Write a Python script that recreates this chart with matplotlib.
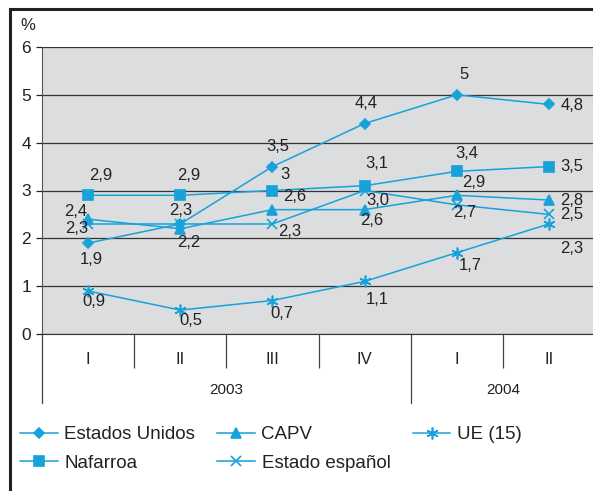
import matplotlib
matplotlib.use('Agg')
import matplotlib.pyplot as plt
from matplotlib.patches import Rectangle

plt.rcParams['font.family'] = ['Liberation Sans', 'DejaVu Sans']

quarters = ['I', 'II', 'III', 'IV', 'I', 'II']
years = ['2003', '2004']

estados_unidos = [1.9, 2.3, 3.5, 4.4, 5.0, 4.8]
nafarroa = [2.9, 2.9, 3.0, 3.1, 3.4, 3.5]
capv = [2.4, 2.2, 2.6, 2.6, 2.9, 2.8]
estado_espanol = [2.3, 2.3, 2.3, 3.0, 2.7, 2.5]
ue15 = [0.9, 0.5, 0.7, 1.1, 1.7, 2.3]

# printed labels (None = not shown)
lab_eu = ['1,9', '2,3', '3,5', '4,4', '5', '4,8']
lab_naf = ['2,9', '2,9', '3', '3,1', '3,4', '3,5']
lab_capv = ['2,4', '2,2', '2,6', '2,6', '2,9', '2,8']
lab_esp = ['2,3', None, '2,3', '3,0', '2,7', '2,5']
lab_ue = ['0,9', '0,5', '0,7', '1,1', '1,7', '2,3']

color = '#17a2da'
dark = '#222222'

W, H = 593, 491
fig = plt.figure(figsize=(W / 100, H / 100), dpi=100)
x0, x1, y0, y1 = 42, 595, 334, 47
ax = fig.add_axes([x0 / W, 1 - y0 / H, (x1 - x0) / W, (y0 - y1) / H])
ax.set_facecolor('#dcdddf')

x = list(range(len(quarters)))
series = [
    ('Estados Unidos', estados_unidos, 'D', 5.5, lab_eu,
     [(3, -16), (0, 13), (5, 20), (2, 20), (7, 20), (23, -1)]),
    ('Nafarroa', nafarroa, 's', 7, lab_naf,
     [(13, 20), (8, 20), (13, 16), (12, 22), (10, 18), (23, 0)]),
    ('CAPV', capv, '^', 7.5, lab_capv,
     [(-12, 8), (8, -14), (22, 13), (7, -11), (17, 13), (23, 0)]),
    ('Estado español', estado_espanol, 'x', 7.5, lab_esp,
     [(-11, -5), (0, 0), (17, -8), (13, -10), (8, -8), (23, 0)]),
    ('UE (15)', ue15, (6, 2, 0), 8.5, lab_ue,
     [(6, -11), (11, -10), (9, -13), (13, -18), (13, -13), (23, -25)]),
]

handles = {}
for name, vals, mk, ms, labs, offs in series:
    h, = ax.plot(x, vals, color=color, lw=1.1, marker=mk, markersize=ms,
                 markeredgewidth=1.2, label=name, clip_on=False, zorder=3)
    handles[name] = h
    for xi, v, lb, off in zip(x, vals, labs, offs):
        if lb is None:
            continue
        ax.annotate(lb, (xi, v), xytext=off, textcoords='offset pixels',
                    ha='center', va='center', fontsize=12, color=dark)

ax.set_xlim(-0.5, 5.5)
ax.set_ylim(0, 6)
ax.set_yticks(range(7))
ax.grid(axis='y', color='#333333', lw=0.9)
ax.set_axisbelow(True)
ax.tick_params(axis='y', length=4, width=0.9, color=dark, labelsize=12.5,
               labelcolor=dark, pad=4)

for s in ['top', 'right']:
    ax.spines[s].set_visible(False)
ax.spines['left'].set_color('#555555')
ax.spines['bottom'].set_color('#333333')

ax.set_xticks(x)
ax.set_xticklabels(quarters)
ax.tick_params(axis='x', which='major', length=0, pad=13, labelsize=12,
               labelcolor=dark)
ax.set_xticks([0.5, 1.5, 2.5, 4.5], minor=True)
ax.tick_params(axis='x', which='minor', length=24.5, width=0.9, color='#444444',
               direction='out')

xt = ax.get_xaxis_transform()
low = -(403 - 334) / (334 - 47)
for xb in [-0.5, 3.5]:
    ax.plot([xb, xb], [0, low], transform=xt, color='#444444', lw=0.9,
            clip_on=False)
ax.text(1.5, -(390 - 334) / (334 - 47), years[0], transform=xt,
        ha='center', va='center', fontsize=11, color=dark)
ax.text(4.5, -(390 - 334) / (334 - 47), years[1], transform=xt,
        ha='center', va='center', fontsize=11, color=dark)

fig.text(28 / W, 1 - 25 / H, '%', ha='center', va='center', fontsize=12,
         color=dark)

# outer frame
fig.patches.append(Rectangle((10 / W, -0.1), 1.2, 1 - 9 / H + 0.1,
                             transform=fig.transFigure, fill=False,
                             edgecolor='#222222', lw=2.2))

order = ['Estados Unidos', 'Nafarroa', 'CAPV', 'Estado español', 'UE (15)']
fig.legend([handles[n] for n in order], order, ncol=3, loc='upper left',
           bbox_to_anchor=(20 / W, 1 - 426 / H), frameon=False, fontsize=13.5,
           borderpad=0, borderaxespad=0, handlelength=2.0, handletextpad=0.35,
           columnspacing=1.2, labelspacing=0.62, labelcolor=dark)

fig.savefig('out.png', dpi=100)
